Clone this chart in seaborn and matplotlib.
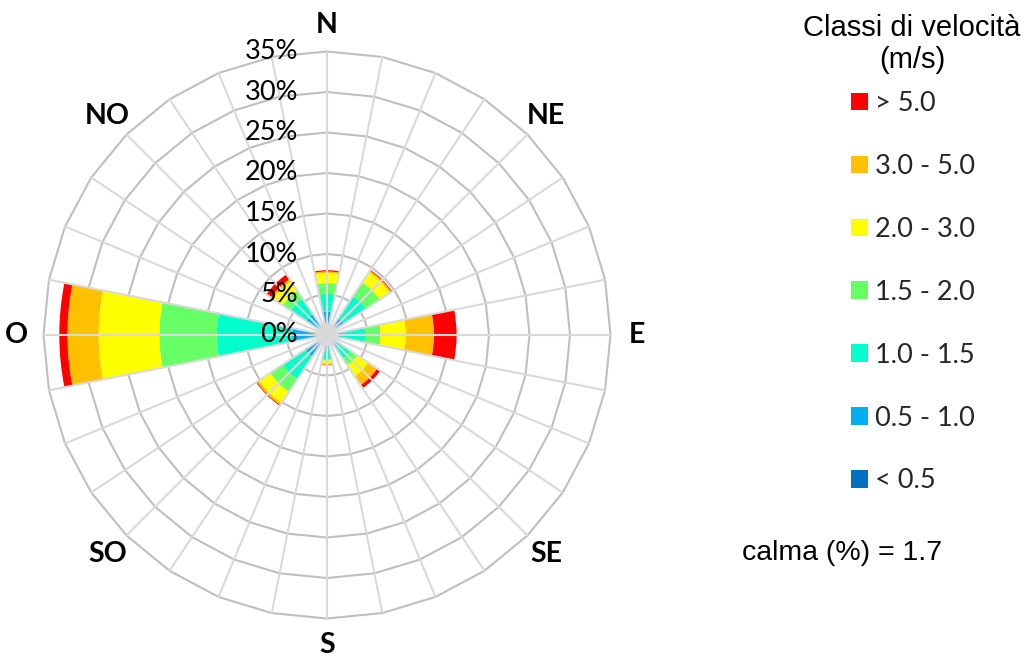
import numpy as np
import pandas as pd
import matplotlib
matplotlib.use("Agg")
import matplotlib.pyplot as plt
import seaborn as sns
from matplotlib.patches import Patch

# ---------------- data ----------------
directions = ["N", "NE", "E", "SE", "S", "SO", "O", "NO"]
class_labels = ["< 0.5", "0.5 - 1.0", "1.0 - 1.5", "1.5 - 2.0", "2.0 - 3.0", "3.0 - 5.0", "> 5.0"]
class_colors = ["#0070C0", "#00B0F0", "#00FFCC", "#66FF66", "#FFFF00", "#FFC000", "#FF0000"]

v_lt05  = [0.5, 0.5, 0.5, 0.5, 0.5, 0.5, 0.5, 0.5]
v05_10  = [2.4, 2.0, 1.35, 1.4, 1.15, 2.7, 3.8, 2.6]
v10_15  = [2.15, 3.3, 2.85, 1.6, 1.35, 3.35, 9.3, 2.3]
v15_20  = [1.35, 2.0, 1.9, 1.0, 0.17, 1.9, 7.1, 1.2]
v20_30  = [1.25, 1.5, 3.1, 1.65, 0.33, 1.65, 7.5, 1.4]
v30_50  = [0.2, 0.25, 3.5, 1.3, 0.2, 0.3, 3.85, 0.3]
v_gt50  = [0.15, 0.1, 2.8, 0.45, 0.05, 0.1, 1.0, 0.7]

ring_levels = [0, 5, 10, 15, 20, 25, 30, 35]
ring_labels = ["0%", "5%", "10%", "15%", "20%", "25%", "30%", "35%"]
calma = 1.7
legend_title = "Classi di velocità\n(m/s)"

df = pd.DataFrame({lab: vals for lab, vals in zip(
    class_labels, [v_lt05, v05_10, v10_15, v15_20, v20_30, v30_50, v_gt50])}, index=directions)

# ---------------- style ----------------
sns.set_theme(style="white")
plt.rcParams["font.family"] = ["Lato", "DejaVu Sans"]
arial = ["Liberation Sans", "DejaVu Sans"]

W, H = 1028, 666
fig = plt.figure(figsize=(W / 100, H / 100), dpi=100)
ax = fig.add_axes([43.5 / W, 47.5 / H, 567 / W, 567 / H], projection="polar")
ax.set_theta_zero_location("N")
ax.set_theta_direction(-1)
ax.set_ylim(0, 35)
ax.grid(False)
ax.set_xticks([])
ax.set_yticks([])
ax.spines["polar"].set_visible(False)

n_dir = len(directions)
theta = np.deg2rad(np.arange(n_dir) * 360.0 / n_dir)
width = np.deg2rad(360.0 / (2 * n_dir))

# rings (polygonal, 32 sides) below bars
n_spokes = 32
g_ang = np.deg2rad(np.arange(n_spokes + 1) * 360.0 / n_spokes)
for r in ring_levels[1:]:
    ax.plot(g_ang, np.full(n_spokes + 1, r), color="#bfbfbf", lw=1.5, zorder=1, clip_on=False)

# stacked bars
bottom = np.zeros(n_dir)
for lab, col in zip(class_labels, class_colors):
    vals = df[lab].to_numpy()
    ax.bar(theta, vals, width=width, bottom=bottom, color=col, linewidth=0, zorder=2, align="center")
    bottom = bottom + vals

# spokes above bars
for a in g_ang[:-1]:
    ax.plot([a, a], [0, ring_levels[-1]], color="#d9d9d9", lw=1.5, zorder=3, clip_on=False)

# radial labels
for r, lab in zip(ring_levels, ring_labels):
    ax.annotate(lab, xy=(0, r), xytext=(-29, 0), textcoords="offset pixels",
                ha="right", va="center", fontsize=19.5, color="black", zorder=5,
                annotation_clip=False)

# direction labels
for t, lab in zip(theta, directions):
    ax.text(t, 38.3, lab, ha="center", va="center", fontsize=20.5, fontweight="bold",
            color="black", clip_on=False)

# legend
fig.text(912 / W, 1 - 44 / H, legend_title, ha="center", va="center", multialignment="center",
         fontsize=21, family=arial, color="black", linespacing=1.15)
handles = [Patch(facecolor=c, edgecolor="none") for c in class_colors[::-1]]
leg = fig.legend(handles, class_labels[::-1], loc="upper center",
                 bbox_to_anchor=(913 / W, 1 - 91 / H), frameon=False, fontsize=19.5,
                 handlelength=0.62, handleheight=0.62, handletextpad=0.25,
                 labelspacing=1.40, borderpad=0, borderaxespad=0)

fig.text(742 / W, 1 - 553 / H, f"calma (%) = {calma}", ha="left", va="center",
         fontsize=20.5, family=arial, color="black")

fig.savefig("out.png", dpi=100, facecolor="white")
